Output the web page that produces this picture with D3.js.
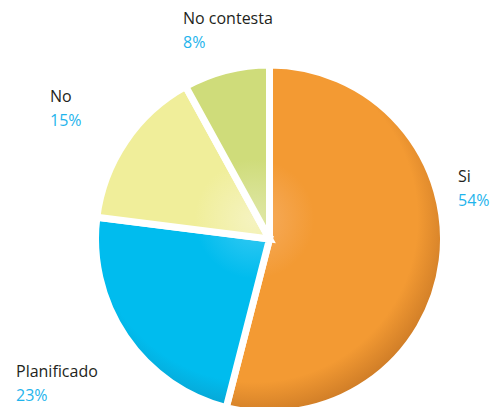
<!DOCTYPE html>
<html lang="es">
<head>
<meta charset="UTF-8">
<title>Pie</title>
<script src="https://d3js.org/d3.v7.min.js"></script>
<style>
  html, body { margin: 0; padding: 0; background: #fff; }
  svg { display: block; }
  text { font-family: "Open Sans", sans-serif; font-size: 16px; }
  .lbl { fill: #231f20; }
  .pct { fill: #1fb4ec; }
</style>
</head>
<body>
<svg id="chart" width="494" height="407"></svg>
<script>
// data
const categories = ["Si", "Planificado", "No", "No contesta"];
const values = [54, 23, 15, 8];
const pctLabels = ["54%", "23%", "15%", "8%"];

// colours: light, main, dark
const shades = [
  ["#f6ad60", "#f39a33", "#cd7b26"],
  ["#3ccbf3", "#00bcee", "#0a9fcc"],
  ["#f5f3c0", "#f0ee9a", "#dfda92"],
  ["#dfe7a6", "#cfdc7a", "#bfcd70"]
];

// label anchor points (left x, baseline y of first line)
const labelAt = [[458, 182], [16, 377], [50, 102], [183, 24]];

const width = 494, height = 407;
const cx = 269.5, cy = 239, radius = 174;

const svg = d3.select("#chart");
const defs = svg.append("defs");

// gradient coords are in the pie group's space (origin = pie centre)
shades.forEach((s, i) => {
  const g = defs.append("radialGradient")
    .attr("id", "grad" + i)
    .attr("gradientUnits", "userSpaceOnUse")
    .attr("cx", -15).attr("cy", -20)
    .attr("r", radius + 25);
  g.append("stop").attr("offset", "0%").attr("stop-color", s[0]);
  g.append("stop").attr("offset", "30%").attr("stop-color", s[1]);
  g.append("stop").attr("offset", "82%").attr("stop-color", s[1]);
  g.append("stop").attr("offset", "100%").attr("stop-color", s[2]);
});

const pie = d3.pie().sort(null).value(d => d);
const arc = d3.arc().innerRadius(0).outerRadius(radius);

const g = svg.append("g").attr("transform", `translate(${cx},${cy})`);

g.selectAll("path")
  .data(pie(values))
  .enter().append("path")
  .attr("d", arc)
  .attr("fill", (d, i) => `url(#grad${i})`)
  .attr("stroke", "#fff")
  .attr("stroke-width", 7)
  .attr("stroke-linejoin", "miter");

const labels = svg.selectAll(".label")
  .data(categories)
  .enter().append("g")
  .attr("class", "label")
  .attr("transform", (d, i) => `translate(${labelAt[i][0]},${labelAt[i][1]})`);

labels.append("text").attr("class", "lbl").text(d => d);
labels.append("text").attr("class", "pct").attr("y", 23.5).text((d, i) => pctLabels[i]);
</script>
</body>
</html>
